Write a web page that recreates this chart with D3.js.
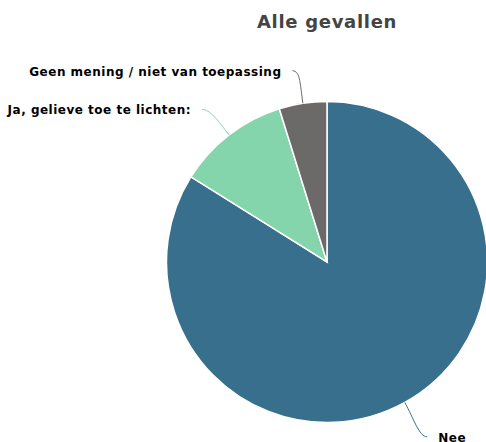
<!DOCTYPE html>
<html>
<head>
<meta charset="utf-8">
<script src="https://cdn.jsdelivr.net/npm/d3@7"></script>
<style>
  body { margin: 0; background: #fff; }
  svg { display: block; }
</style>
</head>
<body>
<div id="chart"></div>
<script>
// Pie chart "Alle gevallen"
var width = 486, height = 442;

var title = "Alle gevallen";
var categories = ["Nee", "Ja, gelieve toe te lichten:", "Geen mening / niet van toepassing"];
var values = [83.9, 11.3, 4.8];
var colors = ["#376f8c", "#85d5ac", "#6b6a68"];

var cx = 327, cy = 262, radius = 160.5;
var labelDist = 36;

var svg = d3.select("#chart")
    .append("svg")
        .attr("width", width)
        .attr("height", height);

svg.append("text")
    .attr("x", cx)
    .attr("y", 28)
    .attr("text-anchor", "middle")
    .style("font-family", "DejaVu Sans, sans-serif")
    .style("font-weight", "bold")
    .style("font-size", "18px")
    .style("letter-spacing", "0.7px")
    .style("fill", "#444")
    .text(title);

var data = categories.map(function(c, i) { return {name: c, value: values[i], color: colors[i]}; });

var pie = d3.pie()
    .sort(null)
    .value(function(d) { return d.value; });

var arc = d3.arc()
    .innerRadius(0)
    .outerRadius(radius);

var arcs = pie(data);

var g = svg.append("g")
    .attr("transform", "translate(" + cx + "," + cy + ")");

g.selectAll("path.slice")
    .data(arcs)
    .enter()
    .append("path")
        .attr("class", "slice")
        .attr("d", arc)
        .style("fill", function(d) { return d.data.color; })
        .style("stroke", "#fff")
        .style("stroke-width", 1.5);

// Label + connector geometry from the mid angle of each slice
function labelGeom(d) {
    var a = (d.startAngle + d.endAngle) / 2;
    var s = Math.sin(a), c = -Math.cos(a);
    var side = s >= 0 ? 1 : -1;
    var start = [radius * s, radius * c];
    var end = [(radius + labelDist) * s + side * 5, (radius + labelDist) * c + 3];
    var ctrl1 = [(radius + 18) * s, (radius + 18) * c];
    var ctrl2 = [end[0] - side * 8, end[1]];
    return {side: side, start: start, end: end, ctrl1: ctrl1, ctrl2: ctrl2};
}

g.selectAll("path.connector")
    .data(arcs)
    .enter()
    .append("path")
        .attr("class", "connector")
        .attr("d", function(d) {
            var p = labelGeom(d);
            return "M" + p.start + "C" + p.ctrl1 + " " + p.ctrl2 + " " + p.end;
        })
        .style("fill", "none")
        .style("stroke", function(d) { return d.data.color; })
        .style("stroke-width", 1);

g.selectAll("text.label")
    .data(arcs)
    .enter()
    .append("text")
        .attr("class", "label")
        .attr("x", function(d) { var p = labelGeom(d); return p.end[0] + p.side * 11; })
        .attr("y", function(d) { return labelGeom(d).end[1]; })
        .attr("dy", "0.4em")
        .attr("text-anchor", function(d) { return labelGeom(d).side > 0 ? "start" : "end"; })
        .style("font-family", "DejaVu Sans, sans-serif")
        .style("font-weight", "bold")
        .style("font-size", "12px")
        .style("letter-spacing", "0.5px")
        .style("fill", "#000")
        .text(function(d) { return d.data.name; });
</script>
</body>
</html>
